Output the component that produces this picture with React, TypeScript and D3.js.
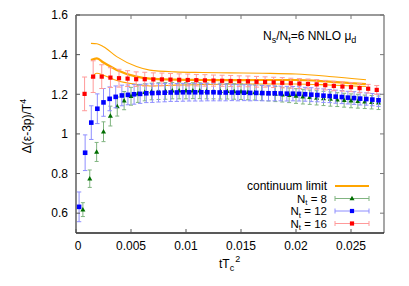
import React from 'react'
import * as d3 from 'd3'

// continuum band: central value and upper / lower edges
const contT = [0.00136, 0.0019, 0.0025, 0.0037, 0.0055, 0.0067, 0.009, 0.0115, 0.014, 0.017, 0.02, 0.023, 0.02636]
const contMid = [1.373, 1.381, 1.36, 1.323, 1.289, 1.279, 1.274, 1.272, 1.271, 1.272, 1.272, 1.264, 1.251]
const contHi = [1.457, 1.455, 1.44, 1.39, 1.34, 1.322, 1.313, 1.31, 1.308, 1.306, 1.302, 1.29, 1.273]
const contLo = [1.281, 1.306, 1.296, 1.27, 1.25, 1.242, 1.246, 1.249, 1.251, 1.252, 1.252, 1.247, 1.239]

// Nt = 8
const nt8T = [
  0.000625, 0.00125, 0.001875, 0.0025, 0.003125, 0.00375, 0.004375, 0.005, 0.005625, 0.00625,
  0.006875, 0.0075, 0.008125, 0.00875, 0.009375, 0.01, 0.010625, 0.01125, 0.011875, 0.0125,
  0.013125, 0.01375, 0.014375, 0.015, 0.015625, 0.01625, 0.016875, 0.0175, 0.018125, 0.01875,
  0.019375, 0.02, 0.020625, 0.02125, 0.021875, 0.0225, 0.023125, 0.02375, 0.024375, 0.025,
  0.025625, 0.02625, 0.026875, 0.0275,
]
const nt8V = [
  0.618, 0.774, 0.909, 1.011, 1.09, 1.138, 1.168, 1.19, 1.203, 1.21,
  1.214, 1.216, 1.217, 1.218, 1.218, 1.218, 1.218, 1.218, 1.217, 1.217,
  1.216, 1.215, 1.214, 1.213, 1.211, 1.209, 1.207, 1.204, 1.201, 1.198,
  1.195, 1.191, 1.188, 1.185, 1.182, 1.179, 1.176, 1.173, 1.17, 1.167,
  1.165, 1.162, 1.16, 1.157,
]
const nt8E = [
  0.035, 0.044, 0.048, 0.05, 0.05, 0.048, 0.046, 0.045, 0.044, 0.043,
  0.042, 0.042, 0.042, 0.041, 0.041, 0.041, 0.04, 0.04, 0.04, 0.04,
  0.04, 0.039, 0.039, 0.039, 0.039, 0.038, 0.038, 0.038, 0.038, 0.037,
  0.037, 0.037, 0.037, 0.036, 0.036, 0.036, 0.036, 0.035, 0.035, 0.035,
  0.035, 0.034, 0.034, 0.034,
]

// Nt = 12
const nt12T = [
  0.00028, 0.00083, 0.00139, 0.00194, 0.0025, 0.00306, 0.00361, 0.00417, 0.00472, 0.00528,
  0.00583, 0.00639, 0.00694, 0.0075, 0.00806, 0.00861, 0.00917, 0.00972, 0.01028, 0.01083,
  0.01139, 0.01194, 0.0125, 0.01306, 0.01361, 0.01417, 0.01472, 0.01528, 0.01583, 0.01639,
  0.01694, 0.0175, 0.01806, 0.01861, 0.01917, 0.01972, 0.02028, 0.02083, 0.02139, 0.02194,
  0.0225, 0.02306, 0.02361, 0.02417, 0.02472, 0.02528, 0.02583, 0.02639, 0.02694, 0.0275,
]
const nt12V = [
  0.632, 0.905, 1.057, 1.127, 1.159, 1.177, 1.187, 1.194, 1.197, 1.2,
  1.202, 1.205, 1.206, 1.207, 1.208, 1.209, 1.209, 1.21, 1.21, 1.21,
  1.21, 1.21, 1.21, 1.209, 1.209, 1.209, 1.208, 1.208, 1.207, 1.207,
  1.206, 1.205, 1.205, 1.204, 1.203, 1.203, 1.202, 1.2, 1.198, 1.196,
  1.193, 1.191, 1.188, 1.186, 1.183, 1.181, 1.178, 1.176, 1.173, 1.17,
]
const nt12E = [
  0.075, 0.09, 0.085, 0.075, 0.07, 0.06, 0.055, 0.052, 0.05, 0.05,
  0.048, 0.047, 0.047, 0.046, 0.046, 0.045, 0.045, 0.045, 0.044, 0.044,
  0.044, 0.043, 0.043, 0.042, 0.042, 0.041, 0.041, 0.04, 0.04, 0.039,
  0.039, 0.038, 0.038, 0.037, 0.037, 0.036, 0.036, 0.035, 0.035, 0.034,
  0.034, 0.033, 0.033, 0.033, 0.032, 0.032, 0.032, 0.031, 0.031, 0.031,
]

// Nt = 16
const nt16T = [
  0.00078, 0.00156, 0.00234, 0.00313, 0.00391, 0.00469, 0.00547, 0.00625, 0.00703, 0.00781,
  0.00859, 0.00938, 0.01016, 0.01094, 0.01172, 0.0125, 0.01328, 0.01406, 0.01484, 0.01563,
  0.01641, 0.01719, 0.01797, 0.01875, 0.01953, 0.02031, 0.02109, 0.02188, 0.02266, 0.02344,
  0.02422, 0.025, 0.02578, 0.02656, 0.02734,
]
const nt16V = [
  1.202, 1.289, 1.289, 1.284, 1.281, 1.279, 1.276, 1.276, 1.275, 1.275,
  1.274, 1.273, 1.272, 1.271, 1.27, 1.269, 1.268, 1.267, 1.266, 1.265,
  1.263, 1.262, 1.26, 1.258, 1.256, 1.254, 1.252, 1.25, 1.246, 1.242,
  1.239, 1.236, 1.231, 1.228, 1.222,
]
const nt16E = [
  0.085, 0.08, 0.06, 0.05, 0.045, 0.04, 0.037, 0.035, 0.033, 0.032,
  0.031, 0.03, 0.03, 0.029, 0.029, 0.028, 0.028, 0.028, 0.027, 0.027,
  0.027, 0.026, 0.026, 0.026, 0.025, 0.025, 0.025, 0.024, 0.024, 0.024,
  0.023, 0.023, 0.023, 0.022, 0.022,
]

const xTicks = [0, 0.005, 0.01, 0.015, 0.02, 0.025]
const yTicks = [0.6, 0.8, 1, 1.2, 1.4, 1.6]

const W = 409
const H = 286
const L = 76
const R = 384
const T = 15
const B = 233
const FONT = 'Liberation Sans, Arial, sans-serif'

const x = d3.scaleLinear().domain([0, 0.028]).range([L, R])
const y = d3.scaleLinear().domain([0.5, 1.6]).range([B, T])

type Pt = { t: number; v: number; e: number }
const zip = (ts: number[], vs: number[], es: number[]): Pt[] => ts.map((t, i) => ({ t, v: vs[i], e: es[i] }))

const series = [
  { label: '8', data: zip(nt8T, nt8V, nt8E), color: '#006e00', bar: '#80b480', shape: 'tri', cap: 2 },
  { label: '12', data: zip(nt12T, nt12V, nt12E), color: '#0000ff', bar: '#8e8eff', shape: 'sq', cap: 2.2 },
  { label: '16', data: zip(nt16T, nt16V, nt16E), color: '#ff0000', bar: '#ff9a9a', shape: 'sq', cap: 2.5 },
]

const line = d3
  .line<[number, number]>()
  .x(d => x(d[0]))
  .y(d => y(d[1]))
  .curve(d3.curveMonotoneX)

const Marker = ({ cx, cy, shape, color, s }: { cx: number; cy: number; shape: string; color: string; s: number }) =>
  shape === 'tri' ? (
    <path d={`M${cx},${cy - s * 0.75}L${cx + s * 0.7},${cy + s * 0.5}L${cx - s * 0.7},${cy + s * 0.5}Z`} fill={color} />
  ) : (
    <rect x={cx - s / 2} y={cy - s / 2} width={s} height={s} fill={color} />
  )

const App = () => {
  const legendY = [186, 198.5, 211, 223.5]
  const lx0 = 335
  const lx1 = 369
  return (
    <svg width={W} height={H} style={{ position: 'absolute', left: 0, top: 0, background: '#fff' }} fontFamily={FONT}>
      {/* continuum band */}
      {[contHi, contLo].map((arr, k) => (
        <path key={k} d={line(contT.map((t, i) => [t, arr[i]]))!} fill='none' stroke='#ffa500' strokeWidth={1.1} />
      ))}
      <path d={line(contT.map((t, i) => [t, contMid[i]]))!} fill='none' stroke='#ffa500' strokeWidth={2.2} />

      {/* lattice data */}
      {series.map(s => (
        <g key={s.label}>
          {s.data.map((d, i) => {
            const px = x(d.t)
            return (
              <g key={i} stroke={s.bar} strokeWidth={1}>
                <line x1={px} x2={px} y1={y(d.v + d.e)} y2={y(d.v - d.e)} />
                <line x1={px - s.cap} x2={px + s.cap} y1={y(d.v + d.e)} y2={y(d.v + d.e)} />
                <line x1={px - s.cap} x2={px + s.cap} y1={y(d.v - d.e)} y2={y(d.v - d.e)} />
              </g>
            )
          })}
          {s.data.map((d, i) => (
            <Marker key={i} cx={x(d.t)} cy={y(d.v)} shape={s.shape} color={s.color} s={s.shape === 'tri' ? 3.6 : s.label === '16' ? 4.2 : 4.6} />
          ))}
        </g>
      ))}

      {/* frame */}
      <line x1={L} x2={R} y1={T} y2={T} stroke='#777' strokeWidth={1.3} />
      <line x1={R} x2={R} y1={T} y2={B} stroke='#777' strokeWidth={1.3} />
      <line x1={L} x2={L} y1={T} y2={B} stroke='#444' strokeWidth={1.3} />
      <line x1={L} x2={R} y1={B} y2={B} stroke='#222' strokeWidth={1.3} />

      {/* ticks */}
      {yTicks.map(v => (
        <g key={v}>
          <line x1={L} x2={L + 4} y1={y(v)} y2={y(v)} stroke='#555' />
          <line x1={R - 4} x2={R} y1={y(v)} y2={y(v)} stroke='#777' />
          <text x={L - 8} y={y(v) + 4.3} textAnchor='end' fontSize={12} fill='#000'>
            {d3.format('')(v)}
          </text>
        </g>
      ))}
      {xTicks.map(t => (
        <g key={t}>
          <line x1={x(t)} x2={x(t)} y1={B} y2={B - 4} stroke='#555' />
          <line x1={x(t)} x2={x(t)} y1={T} y2={T + 4} stroke='#777' />
          <text x={x(t) + (t === 0 ? 2 : 0)} y={B + 17} textAnchor='middle' fontSize={12} fill='#000'>
            {d3.format('')(t)}
          </text>
        </g>
      ))}

      {/* axis titles */}
      <text transform={`translate(31,${(T + B) / 2 + 2}) rotate(-90)`} textAnchor='middle' fontSize={12} fill='#000'>
        Δ(ε-3p)/T<tspan dy={-5} fontSize={9}>4</tspan>
      </text>
      <text x={219} y={268} fontSize={12} fill='#000'>
        tT<tspan dy={3} fontSize={9}>c</tspan>
        <tspan dy={-9} dx={1} fontSize={9}>2</tspan>
      </text>

      {/* title */}
      <text x={263} y={40} fontSize={12} fill='#000'>
        N<tspan dy={3} fontSize={9}>s</tspan>
        <tspan dy={-3}>/N</tspan>
        <tspan dy={3} fontSize={9}>t</tspan>
        <tspan dy={-3}>=6 NNLO μ</tspan>
        <tspan dy={3} fontSize={9}>d</tspan>
      </text>

      {/* legend */}
      <text x={327} y={legendY[0] + 4.3} textAnchor='end' fontSize={12} fill='#000'>
        continuum limit
      </text>
      <line x1={lx0} x2={lx1} y1={legendY[0]} y2={legendY[0]} stroke='#ffa500' strokeWidth={2.2} />
      {series.map((s, k) => {
        const ly = legendY[k + 1]
        const mx = (lx0 + lx1) / 2
        return (
          <g key={s.label}>
            <text x={327} y={ly + 4} textAnchor='end' fontSize={11.5} fill='#000'>
              N<tspan dy={2.5} fontSize={8}>t</tspan>
              <tspan dy={-2.5}> = {s.label}</tspan>
            </text>
            <g stroke={s.bar} strokeWidth={1}>
              <line x1={lx0} x2={lx1} y1={ly} y2={ly} />
              <line x1={lx0} x2={lx0} y1={ly - 2.5} y2={ly + 2.5} />
              <line x1={lx1} x2={lx1} y1={ly - 2.5} y2={ly + 2.5} />
            </g>
            <Marker cx={mx} cy={ly} shape={s.shape} color={s.color} s={s.shape === 'tri' ? 3.6 : 4.2} />
          </g>
        )
      })}
    </svg>
  )
}

export default App
